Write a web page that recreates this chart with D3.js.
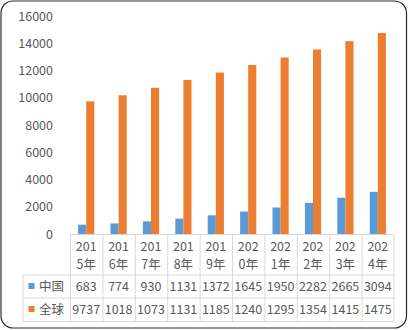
<!DOCTYPE html>
<html><head><meta charset="utf-8">
<script src="https://cdn.jsdelivr.net/npm/d3@7"></script>
<style>html,body{margin:0;padding:0;background:#fff;}svg{display:block;}</style>
</head><body>
<svg id="c" width="408" height="330"></svg>
<script>
const categories = ["2015年","2016年","2017年","2018年","2019年","2020年","2021年","2022年","2023年","2024年"];
const seriesNames = ["中国","全球"];
const chinaValues = [683,774,930,1131,1372,1645,1950,2282,2665,3094];
const globalValues = [9737,10180,10730,11310,11850,12400,12950,13540,14150,14750];
const yTicks = [0,2000,4000,6000,8000,10000,12000,14000,16000];
const colors = ["#5b9bd5","#ed7d31"];
const seriesValues = [chinaValues, globalValues];

const FONT = "'Noto Sans CJK SC', 'Noto Sans', sans-serif";
const textColor = "#595959";
const gridColor = "#d9d9d9";

const svg = d3.select("#c");
svg.append("rect").attr("x",1).attr("y",1).attr("width",405.5).attr("height",327)
  .attr("rx",12).attr("fill","#fff").attr("stroke","#2b2b2b").attr("stroke-width",1.2);

const x = d3.scaleBand().domain(categories).range([70,394]).padding(0);
const bw = x.bandwidth();
const xs = d3.scaleBand().domain(seriesNames).range([bw*0.25, bw*0.75]).padding(0);
const y = d3.scaleLinear().domain([0,16000]).range([234,16]);

// y axis
const yAxis = d3.axisLeft(y).tickValues(yTicks).tickSize(0).tickPadding(0).tickFormat(d3.format("d"));
const ya = svg.append("g").attr("transform","translate(53,0)").call(yAxis);
ya.select(".domain").remove();
ya.selectAll("text").attr("font-family",FONT).attr("font-size",12.5).attr("fill",textColor);

// bars
seriesNames.forEach((s,si)=>{
  svg.append("g").selectAll("rect").data(seriesValues[si]).join("rect")
    .attr("x",(d,i)=>x(categories[i])+xs(s))
    .attr("width",xs.bandwidth())
    .attr("y",d=>y(d))
    .attr("height",d=>y(0)-y(d))
    .attr("fill",colors[si]);
});

// data table
const tTop = 234.5, hBot = 275, r1Bot = 298, r2Bot = 321.5, legLeft = 23;
const tg = svg.append("g").attr("stroke",gridColor).attr("stroke-width",1).attr("fill","none");
tg.append("line").attr("x1",70).attr("x2",394).attr("y1",tTop).attr("y2",tTop);
[hBot, r1Bot, r2Bot].forEach(yy=>tg.append("line").attr("x1",legLeft).attr("x2",394).attr("y1",yy).attr("y2",yy));
tg.append("line").attr("x1",legLeft).attr("x2",legLeft).attr("y1",hBot).attr("y2",r2Bot);
categories.forEach(c=>{
  tg.append("line").attr("x1",x(c)+0.5).attr("x2",x(c)+0.5).attr("y1",tTop).attr("y2",r2Bot);
});
tg.append("line").attr("x1",394).attr("x2",394).attr("y1",tTop).attr("y2",r2Bot);

// header labels (wrapped)
const hg = svg.append("g").attr("font-family",FONT).attr("font-size",12.5).attr("fill",textColor).attr("text-anchor","middle");
categories.forEach(c=>{
  const cx = x(c)+bw/2;
  hg.append("text").attr("x",cx).attr("y",250.5).text(c.slice(0,3));
  hg.append("text").attr("x",cx).attr("y",268.5).text(c.slice(3));
});

// rows
const rowY = [291, 314];
const rowMid = [286.5, 309.5];
seriesNames.forEach((s,si)=>{
  svg.append("rect").attr("x",28.5).attr("y",rowMid[si]-3.5).attr("width",6).attr("height",6).attr("fill",colors[si]);
  svg.append("text").attr("x",39).attr("y",rowY[si]).attr("font-family",FONT).attr("font-size",12.5)
    .attr("fill",textColor).text(s);
  seriesValues[si].forEach((v,i)=>{
    const cx = x(categories[i])+bw/2;
    const t = svg.append("text").attr("x",cx).attr("y",rowY[si]).attr("text-anchor","middle")
      .attr("font-family",FONT).attr("font-size",12.5).attr("fill",textColor).text(String(v));
    let str = String(v);
    while (t.node().getComputedTextLength() > bw - 1 && str.length > 1) {
      str = str.slice(0,-1); t.text(str);
    }
  });
});
</script>
</body></html>
